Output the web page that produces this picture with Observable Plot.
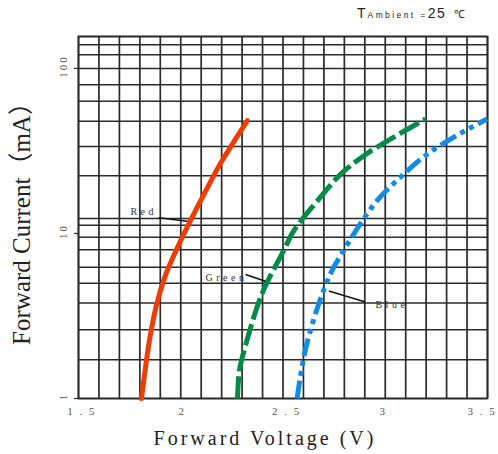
<!DOCTYPE html>
<html>
<head>
<meta charset="utf-8">
<script src="https://cdn.jsdelivr.net/npm/d3@7"></script>
<script src="https://cdn.jsdelivr.net/npm/@observablehq/plot@0.6"></script>
<style>
  body { margin: 0; background: #fff; }
  #wrap { position: relative; width: 498px; height: 454px; }
  #title { position: absolute; left: 357px; top: 4px; font-family: "Liberation Sans", Arial, sans-serif; color: #222; white-space: nowrap; }
</style>
</head>
<body>
<div id="wrap">
  <div id="title"><span style="font-size:14px">T</span><span style="font-size:8.5px;letter-spacing:2.4px;margin-left:2px">Ambient =</span><span style="font-size:14px;letter-spacing:1.5px">25</span><span style="font-size:11px;margin-left:8px">℃</span></div>
</div>
<script>
// Forward voltage (V) vs forward current (mA)
const redV   = [1.808, 1.847, 1.881, 1.925, 1.984, 2.048, 2.116, 2.194, 2.263, 2.326];
const redI   = [1.0,   2.25,  3.67,  5.57,  8.23,  12.0,  17.5,  26.5,  36.5,  48.3];
const greenV = [2.2775, 2.287, 2.317, 2.397, 2.504, 2.553, 2.683, 2.786, 2.91, 3.042, 3.197];
const greenI = [1.0,    1.48,  2.1,   4.3,   7.9,   10.4,  16.6,  23.1,  30.4, 38.3,  49.4];
const blueV  = [2.569, 2.609, 2.675, 2.740, 2.797, 2.863, 2.960, 3.082, 3.197, 3.344, 3.498];
const blueI  = [1.0,   1.96,  3.75,  5.97,  7.9,   10.7,  15.8,  22.4,  29.7,  38.9,  49.4];

// Axis ticks and labels (label centres as placed in the picture)
const xTicks = [1.517, 2.007, 2.518, 2.990, 3.474];
const xTickLabels = ["1 . 5", "2", "2 . 5", "3", "3 . 5"];
const yTicks = [1, 10, 100];
const yTickLabels = ["1", "10", "100"];
const xTitle = "Forward Voltage (V)";
const yTitle = "Forward Current（mA）";

// Grid lines as drawn in the picture
const xGrid = [1.5, 1.6, 1.7, 1.8, 1.9, 2.0, 2.1, 2.2, 2.3, 2.4, 2.5, 2.6, 2.7, 2.8, 2.9, 3.0, 3.1, 3.2, 3.3, 3.4, 3.5];
const yGrid = [1, 1.72, 2.61, 3.79, 5.0, 6.25, 7.97, 9.5, 11.2, 12.3, 22.4, 33.7, 47.8, 63.2, 79.7, 100, 121, 139.1, 156.1];

// Series labels with leader lines
const labelNames = ["Red", "Green", "Blue"];
const labelV = [1.754, 2.121, 2.952];
const labelI = [13.6, 5.42, 3.7];
const leaderV1 = [1.891, 2.317, 2.724];
const leaderI1 = [12.45, 5.65, 4.48];
const leaderV2 = [2.033, 2.414, 2.903];
const leaderI2 = [11.87, 5.14, 3.84];

const series = (V, I) => V.map((v, i) => ({v, i: I[i]}));
const labels = labelNames.map((name, k) => ({name, v: labelV[k], i: labelI[k], v1: leaderV1[k], i1: leaderI1[k], v2: leaderV2[k], i2: leaderI2[k]}));

const gridColor = "#2a2a2a";
const chart = Plot.plot({
  width: 498,
  height: 454,
  marginLeft: 78,
  marginRight: 11,
  marginTop: 36,
  marginBottom: 56,
  style: {background: "#fff", overflow: "visible"},
  x: {domain: [1.5, 3.5], axis: null},
  y: {type: "log", domain: [1, 156.1], axis: null},
  marks: [
    Plot.ruleX(xGrid, {x: d => d, stroke: gridColor, strokeWidth: 1.7}),
    Plot.ruleY(yGrid, {y: d => d, stroke: gridColor, strokeWidth: 1.5}),
    Plot.frame({stroke: gridColor, strokeWidth: 1.7}),
    Plot.ruleY(yTicks, {y: d => d, stroke: gridColor, strokeWidth: 1.2, insetRight: 405, dx: -4}),
    Plot.line(series(redV, redI), {x: "v", y: "i", stroke: "#f03c00", strokeWidth: 5, curve: "catmull-rom"}),
    Plot.line(series(greenV, greenI), {x: "v", y: "i", stroke: "#008c46", strokeWidth: 5, curve: "catmull-rom", strokeDasharray: "22,5", strokeLinecap: "butt"}),
    Plot.line(series(blueV, blueI), {x: "v", y: "i", stroke: "#108ce6", strokeWidth: 5, curve: "catmull-rom", strokeDasharray: "18,5,5,5,5,5", strokeLinecap: "butt"}),
    Plot.link(labels, {x1: "v1", y1: "i1", x2: "v2", y2: "i2", stroke: "#111", strokeWidth: 1.6}),
    Plot.text(labels, {x: "v", y: "i", text: "name", textAnchor: "start", lineAnchor: "middle", fontSize: 10, fontFamily: "Liberation Serif", fill: "#333"}),
    Plot.text(xTicks, {x: d => d, frameAnchor: "bottom", dy: 13, text: (d, i) => xTickLabels[i], textAnchor: "middle", lineAnchor: "middle", fontSize: 11, fontFamily: "Liberation Serif", fill: "#555"}),
    Plot.text(yTicks, {y: d => d, frameAnchor: "left", dx: -15, dy: -2, rotate: -90, text: (d, i) => yTickLabels[i], textAnchor: "middle", lineAnchor: "middle", fontSize: 11, fontFamily: "Liberation Serif", fill: "#555"}),
    Plot.text([xTitle], {frameAnchor: "bottom", dx: -18, dy: 40, textAnchor: "middle", lineAnchor: "middle", fontSize: 20, fontFamily: "Liberation Serif", fill: "#222"}),
    Plot.text([yTitle], {frameAnchor: "left", dx: -57, rotate: -90, textAnchor: "middle", lineAnchor: "middle", fontSize: 25, fontFamily: "Liberation Serif, Noto Sans CJK SC", fill: "#222"})
  ]
});
// letter spacing, as in the picture
d3.select(chart).selectAll("text").each(function () {
  const t = this.textContent;
  let ls = null;
  if (t === xTitle) ls = "3px";
  else if (xTickLabels.includes(t)) ls = "2px";
  else if (yTickLabels.includes(t)) ls = "2px";
  else if (labelNames.includes(t)) ls = "3.5px";
  if (ls) this.style.letterSpacing = ls;
});
document.getElementById("wrap").prepend(chart);
</script>
</body>
</html>
